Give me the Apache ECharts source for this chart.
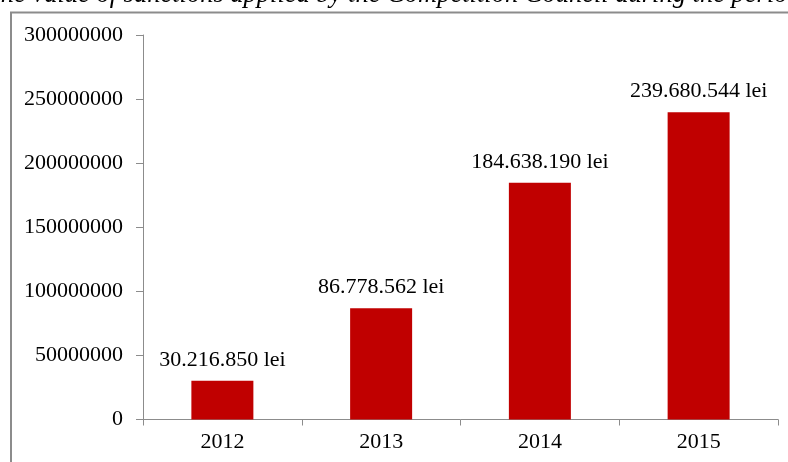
<!DOCTYPE html>
<html>
<head>
<meta charset="utf-8">
<script src="https://cdn.jsdelivr.net/npm/echarts@6/dist/echarts.min.js"></script>
<style>
  html, body { margin: 0; padding: 0; background: #ffffff; }
  #chart { width: 788px; height: 462px; }
</style>
</head>
<body>
<div id="chart"></div>
<script>
// Sanctions applied by the Competition Council, per year (lei)
const years = ['2012', '2013', '2014', '2015'];
const sanctions = [30216850, 86778562, 184638190, 239680544];
const yTicks = { min: 0, max: 300000000, interval: 50000000 };

const serif = '"Liberation Serif", "Times New Roman", serif';

// 30216850 -> "30.216.850"
function dotted(n) {
  return String(n).replace(/\B(?=(\d{3})+(?!\d))/g, '.');
}

const chart = echarts.init(document.getElementById('chart'), null, { renderer: 'canvas' });

chart.setOption({
  animation: false,
  backgroundColor: '#ffffff',
  grid: { left: 143, right: 10, top: 35, bottom: 42.5 },
  graphic: [
    {
      type: 'text',
      style: {
        x: -14,
        y: -5,
        align: 'left',
        verticalAlign: 'middle',
        text: 'The value of sanctions applied by the Competition Council during the period 2012-2015',
        font: 'italic 26.5px ' + serif,
        fill: '#000000'
      }
    },
    {
      type: 'polyline',
      shape: { points: [[11, 462], [11, 12.5], [788, 12.5]] },
      style: { stroke: '#8c8c8c', lineWidth: 2, fill: null }
    }
  ],
  xAxis: {
    type: 'category',
    data: years,
    axisLine: { lineStyle: { color: '#8c8c8c', width: 1 } },
    axisTick: { show: true, length: 6, lineStyle: { color: '#8c8c8c' } },
    axisLabel: { margin: 12, color: '#000000', fontFamily: serif, fontSize: 22 }
  },
  yAxis: {
    type: 'value',
    min: yTicks.min,
    max: yTicks.max,
    interval: yTicks.interval,
    splitLine: { show: false },
    axisLine: { show: true, lineStyle: { color: '#8c8c8c', width: 1 } },
    axisTick: { show: true, length: 7, lineStyle: { color: '#8c8c8c' } },
    axisLabel: {
      margin: 20,
      color: '#000000',
      fontFamily: serif,
      fontSize: 22,
      formatter: v => String(v)
    }
  },
  series: [{
    type: 'bar',
    data: sanctions,
    barWidth: 62,
    itemStyle: { color: '#c00000' },
    label: {
      show: true,
      position: 'top',
      distance: 10,
      color: '#000000',
      fontFamily: serif,
      fontSize: 22,
      formatter: p => dotted(p.value) + ' lei'
    }
  }]
});
</script>
</body>
</html>
